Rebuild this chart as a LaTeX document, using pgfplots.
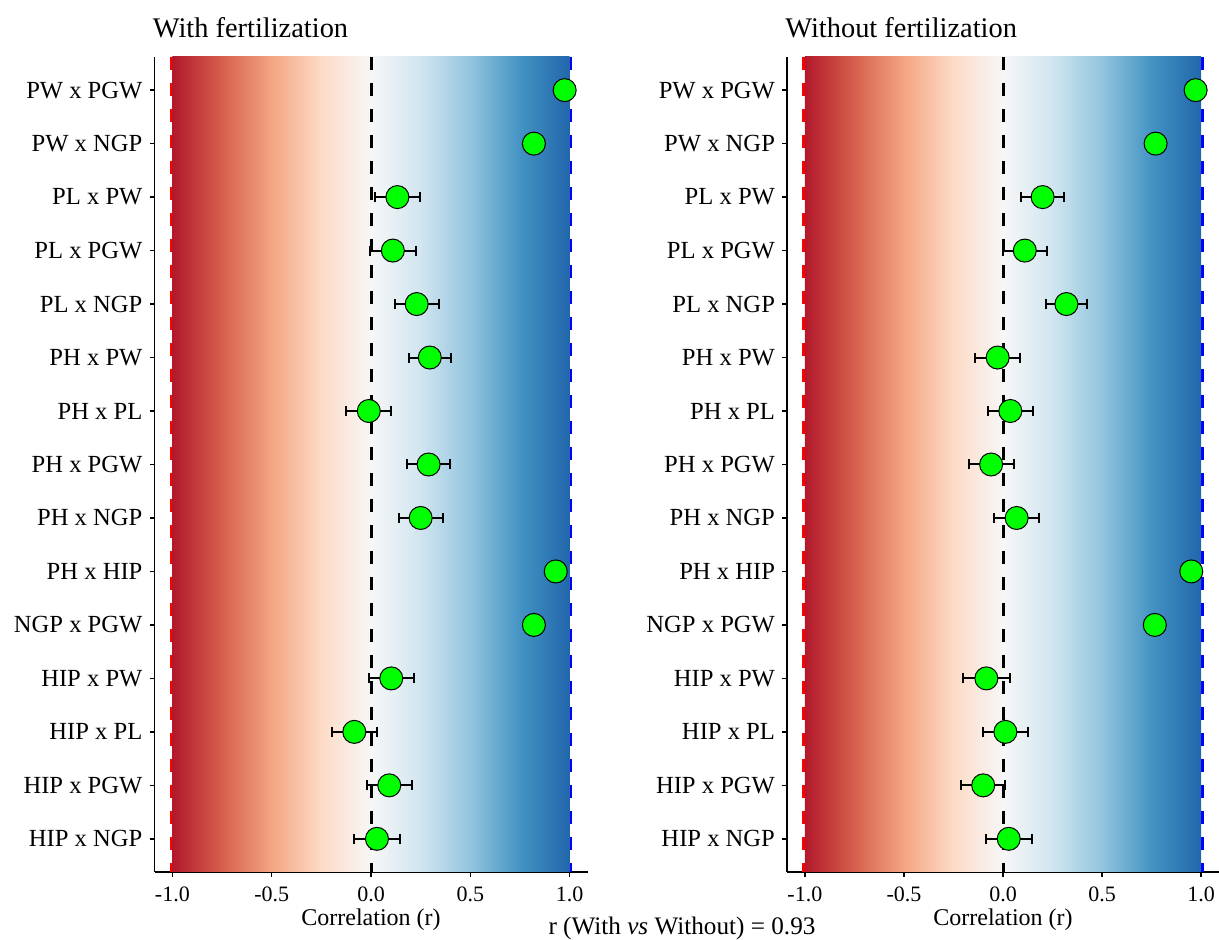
\documentclass[border=0pt]{standalone}
\usepackage{pgfplots}
\pgfplotsset{compat=1.18}
\usepackage{pgfplotstable}
\usepackage{fontspec}
\setmainfont{Liberation Serif}
\definecolor{c1}{HTML}{B2182B}
\definecolor{c2}{HTML}{D6604D}
\definecolor{c3}{HTML}{F4A582}
\definecolor{c4}{HTML}{FDDBC7}
\definecolor{c5}{HTML}{F7F7F7}
\definecolor{c6}{HTML}{D1E5F0}
\definecolor{c7}{HTML}{92C5DE}
\definecolor{c8}{HTML}{4393C3}
\definecolor{c9}{HTML}{2166AC}
\definecolor{ptgreen}{HTML}{00FF00}
\pgfdeclarehorizontalshading{rdbu}{100bp}{color(0bp)=(c1); color(25bp)=(c1); color(31.25bp)=(c2); color(37.5bp)=(c3); color(43.75bp)=(c4); color(50bp)=(c5); color(56.25bp)=(c6); color(62.5bp)=(c7); color(68.75bp)=(c8); color(75bp)=(c9); color(100bp)=(c9)}

\pgfplotstableread{
y x e
15 0.975 0.02
14 0.82 0.03
13 0.133 0.115
12 0.11 0.117
11 0.23 0.11
10 0.296 0.105
9 -0.011 0.114
8 0.29 0.107
7 0.25 0.11
6 0.93 0.02
5 0.82 0.03
4 0.102 0.113
3 -0.084 0.113
2 0.092 0.113
1 0.03 0.115
}\leftdata

\pgfplotstableread{
y x e
15 0.972 0.02
14 0.77 0.03
13 0.20 0.11
12 0.11 0.112
11 0.32 0.105
10 -0.027 0.115
9 0.037 0.112
8 -0.06 0.113
7 0.069 0.112
6 0.95 0.02
5 0.766 0.03
4 -0.084 0.118
3 0.012 0.113
2 -0.10 0.11
1 0.029 0.115
}\rightdata

\pgfplotsset{
  myax/.style={
    scale only axis, height=407.5pt,
    xmin=-1.09, xmax=1.09, ymin=0.38, ymax=15.62,
    axis x line*=bottom, axis y line*=left,
    axis line style={black, line width=0.7pt, -},
    tick align=outside, major tick length=2.5pt,
    tick style={black, line width=0.7pt},
    xtick={-1,-0.5,0,0.5,1},
    xticklabels={-1.0,-0.5,0.0,0.5,1.0},
    ytick={1,...,15},
    yticklabels={HIP x NGP,HIP x PGW,HIP x PL,HIP x PW,NGP x PGW,PH x HIP,PH x NGP,PH x PGW,PH x PL,PH x PW,PL x NGP,PL x PGW,PL x PW,PW x NGP,PW x PGW},
    xticklabel style={font=\fontsize{11}{13}\selectfont, yshift=-1.5pt},
    yticklabel style={font=\fontsize{12.3}{14}\selectfont},
    xlabel={Correlation (r)},
    xlabel style={at={(axis description cs:0.5,0)}, anchor=base, yshift=-27pt, font=\fontsize{12}{14}\selectfont},
    title style={at={(axis description cs:0,1)}, anchor=base west, inner sep=0pt, xshift=-1pt, yshift=3.5pt, font=\fontsize{14.2}{16}\selectfont},
  },
  vlines/.style={forget plot, dash pattern=on 6.5pt off 6.5pt},
  pts/.style={only marks, mark=*, mark size=5.75pt,
    mark options={fill=ptgreen, draw=black, line width=0.5pt, solid},
    error bars/.cd, x dir=both, x explicit,
    error bar style={black, line width=1pt, solid},
    error mark=|, error mark options={black, line width=1pt, mark size=2.5pt}},
}

\begin{document}
\begin{tikzpicture}
\useasboundingbox (0,0) rectangle (609.5pt,470pt);
\begin{axis}[myax, width=216.5pt, at={(77.25pt,34pt)}, anchor=south west, title={With fertilization}]
  \addplot[vlines, red, line width=2.5pt] coordinates {(-1,15.62) (-1,0.38)};
  \addplot[vlines, blue, line width=2.5pt] coordinates {(1,15.62) (1,0.38)};
  \addplot[draw=none, shading=rdbu, forget plot] coordinates {(-1,0.38) (1,0.38) (1,15.62) (-1,15.62)} -- cycle;
  \addplot[vlines, black, line width=1.5pt] coordinates {(0,15.62) (0,0.38)};
  \addplot[pts] table[x=x, y=y, x error=e] {\leftdata};
\end{axis}
\begin{axis}[myax, width=216pt, at={(393.5pt,34pt)}, anchor=south west, title={Without fertilization}]
  \addplot[vlines, red, line width=2.5pt] coordinates {(-1,15.62) (-1,0.38)};
  \addplot[vlines, blue, line width=2.5pt] coordinates {(1,15.62) (1,0.38)};
  \addplot[draw=none, shading=rdbu, forget plot] coordinates {(-1,0.38) (1,0.38) (1,15.62) (-1,15.62)} -- cycle;
  \addplot[vlines, black, line width=1.5pt] coordinates {(0,15.62) (0,0.38)};
  \addplot[pts] table[x=x, y=y, x error=e] {\rightdata};
\end{axis}
\node[anchor=base, font=\fontsize{12.6}{14}\selectfont] at (341pt,2.5pt) {r (With \textit{vs} Without) = 0.93};
\end{tikzpicture}
\end{document}
